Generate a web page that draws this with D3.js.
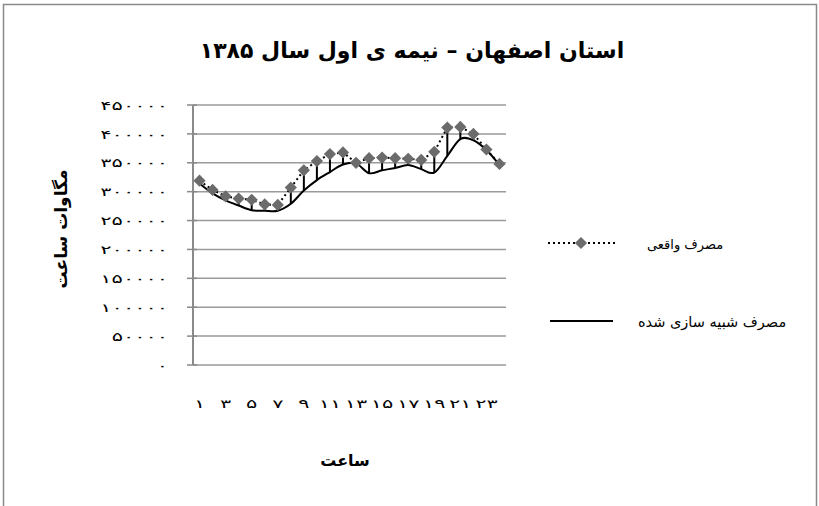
<!DOCTYPE html>
<html>
<head>
<meta charset="utf-8">
<script src="https://cdn.jsdelivr.net/npm/d3@7"></script>
<style>
  html, body { margin: 0; padding: 0; background: #fff; }
  svg { display: block; font-family: "DejaVu Sans", sans-serif; }
</style>
</head>
<body>
<svg id="chart" width="819" height="506"></svg>
<script>
// Hourly electricity demand, Isfahan province, first half of 1385
const hours = [1, 2, 3, 4, 5, 6, 7, 8, 9, 10, 11, 12, 13, 14, 15, 16, 17, 18, 19, 20, 21, 22, 23, 24];
const actual = [319000, 303000, 292000, 288000, 286000, 278000, 277000, 307000, 337000, 353000, 365000, 368000,
                350000, 358000, 359000, 358000, 357000, 355000, 369000, 411000, 412000, 400000, 373000, 348000];
const simulated = [314000, 297000, 285000, 276000, 268000, 267000, 267000, 279000, 302000, 320000, 334000, 347000,
                   349000, 332000, 337000, 341000, 346000, 339000, 333000, 362000, 391000, 389000, 372000, 346000];
const yTicks = [0, 50000, 100000, 150000, 200000, 250000, 300000, 350000, 400000, 450000];
const xTickHours = [1, 3, 5, 7, 9, 11, 13, 15, 17, 19, 21, 23];

const titleText = "استان  اصفهان – نیمه ی اول سال ۱۳۸۵";
const yTitle = "مگاوات ساعت";
const xTitle = "ساعت";
const seriesNames = ["مصرف واقعی", "مصرف شبیه سازی شده"];

const faDigits = "۰۱۲۳۴۵۶۷۸۹";
const toFa = v => String(v).replace(/[0-9]/g, d => faDigits[+d]);

const svg = d3.select("#chart");
const plot = { left: 193, right: 506, top: 105, bottom: 365 };
const digitStretch = 1.75;   // wide, low digits for the tick labels

// Chart frame
svg.append("rect")
  .attr("x", 3.5).attr("y", 4.5).attr("width", 813).attr("height", 520)
  .attr("fill", "#fff").attr("stroke", "#8a8a8a").attr("stroke-width", 1.5);

const x = d3.scaleBand().domain(hours).range([plot.left, plot.right]);
const y = d3.scaleLinear().domain([0, 450000]).range([plot.bottom, plot.top]);
const cx = h => x(h) + x.bandwidth() / 2;

// Horizontal gridlines
svg.append("g").selectAll("line").data(yTicks).join("line")
  .attr("x1", plot.left).attr("x2", plot.right)
  .attr("y1", d => y(d)).attr("y2", d => y(d))
  .attr("stroke", "#9a9a9a").attr("stroke-width", 1.5);

// Vertical axis with crossing ticks
const yAxis = d3.axisLeft(y).tickValues(yTicks).tickSize(0).tickFormat(d => toFa(d));
const gy = svg.append("g").attr("transform", `translate(${plot.left},0)`).call(yAxis);
gy.select(".domain").remove();
gy.selectAll("text")
  .attr("x", 0)
  .attr("dy", "0.35em")
  .attr("text-anchor", "end")
  .attr("transform", `translate(-25,0) scale(${digitStretch},1)`)
  .attr("font-size", 12)
  .attr("fill", "#000")
  .style("font-family", "DejaVu Sans, sans-serif");
svg.append("line")
  .attr("x1", plot.left).attr("x2", plot.left)
  .attr("y1", plot.top).attr("y2", plot.bottom)
  .attr("stroke", "#8a8a8a").attr("stroke-width", 2);
svg.append("g").selectAll("line").data(yTicks).join("line")
  .attr("x1", plot.left - 6).attr("x2", plot.left + 4)
  .attr("y1", d => y(d)).attr("y2", d => y(d))
  .attr("stroke", "#8a8a8a").attr("stroke-width", 1.5);

// Category labels (every other hour)
const xAxis = d3.axisBottom(x).tickValues(xTickHours).tickSize(0).tickFormat(d => toFa(d));
const gx = svg.append("g").attr("transform", `translate(0,${plot.bottom + 31})`).call(xAxis);
gx.select(".domain").remove();
gx.selectAll("text")
  .attr("transform", `scale(${digitStretch},1)`)
  .attr("font-size", 12)
  .attr("fill", "#000")
  .style("font-family", "DejaVu Sans, sans-serif");

// High-low lines between the two series
svg.append("g").selectAll("line").data(hours).join("line")
  .attr("x1", d => cx(d)).attr("x2", d => cx(d))
  .attr("y1", (d, i) => y(Math.max(actual[i], simulated[i])))
  .attr("y2", (d, i) => y(Math.min(actual[i], simulated[i])))
  .attr("stroke", "#000").attr("stroke-width", 2);

// Simulated consumption: smooth solid line
const smoothLine = d3.line().x((d, i) => cx(hours[i])).y(d => y(d)).curve(d3.curveCardinal.tension(0));
svg.append("path").datum(simulated)
  .attr("d", smoothLine)
  .attr("fill", "none").attr("stroke", "#000").attr("stroke-width", 2);

// Actual consumption: dotted line with diamond markers
const straightLine = d3.line().x((d, i) => cx(hours[i])).y(d => y(d));
svg.append("path").datum(actual)
  .attr("d", straightLine)
  .attr("fill", "none").attr("stroke", "#000").attr("stroke-width", 2)
  .attr("stroke-dasharray", "2,3");

const diamond = d3.symbol().type(d3.symbolDiamond2).size(95);
svg.append("g").selectAll("path").data(actual).join("path")
  .attr("d", diamond)
  .attr("transform", (d, i) => `translate(${cx(hours[i])},${y(d)})`)
  .attr("fill", "#6b6b6b");

// Titles
svg.append("text")
  .attr("x", 412).attr("y", 58)
  .attr("text-anchor", "middle")
  .attr("font-size", 22).attr("font-weight", "bold")
  .text(titleText);

svg.append("text")
  .attr("transform", `translate(67,${(plot.top + plot.bottom) / 2 - 6}) rotate(-90)`)
  .attr("text-anchor", "middle")
  .attr("font-size", 17).attr("font-weight", "bold")
  .text(yTitle);

svg.append("text")
  .attr("x", 345).attr("y", 466)
  .attr("text-anchor", "middle")
  .attr("font-size", 16).attr("font-weight", "bold")
  .text(xTitle);

// Legend
const legend = svg.append("g");
legend.append("line")
  .attr("x1", 548).attr("x2", 615).attr("y1", 243).attr("y2", 243)
  .attr("stroke", "#000").attr("stroke-width", 2).attr("stroke-dasharray", "2,3");
legend.append("path")
  .attr("d", diamond)
  .attr("transform", "translate(581,243)")
  .attr("fill", "#6b6b6b");
legend.append("text")
  .attr("x", 647).attr("y", 249)
  .attr("font-size", 13)
  .text(seriesNames[0]);

legend.append("line")
  .attr("x1", 550).attr("x2", 613).attr("y1", 321).attr("y2", 321)
  .attr("stroke", "#000").attr("stroke-width", 2);
legend.append("text")
  .attr("x", 638).attr("y", 327)
  .attr("font-size", 14.5)
  .text(seriesNames[1]);
</script>
</body>
</html>
